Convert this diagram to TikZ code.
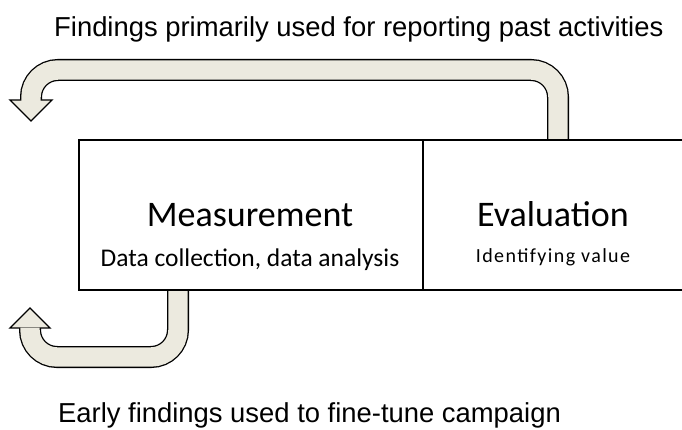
\documentclass[tikz,border=0pt]{standalone}
\usepackage{fontspec}
\setmainfont{Carlito}
\newfontfamily\arialfont{Liberation Sans}
\newfontfamily\spacedfont[LetterSpace=7]{Carlito}
\definecolor{bandfill}{HTML}{ECEADF}

\begin{document}
\begin{tikzpicture}[x=1pt,y=-1pt,
    box/.style={draw,line width=1.3pt,minimum height=150pt,inner sep=0pt},
    bandedge/.style={line width=22pt,rounded corners=27pt},
    bandbody/.style={line width=19.4pt,draw=bandfill,rounded corners=27pt},
    head/.style={draw,line width=1.3pt,fill=bandfill,line join=miter},
    caption/.style={inner sep=0pt,font=\arialfont\fontsize{27.4}{30}\selectfont}]
    \clip (0,0) rectangle (682,430);
    \coordinate (topstart) at (558,141);
    \coordinate (topend) at (31,101);
    \coordinate (botstart) at (178,289);
    \coordinate (botend) at (30,327);
    \draw[bandedge] (topstart) -- (558,70) -- (31,70) -- (topend);
    \draw[head] (10,100) -- (31,121) -- (52,100) -- cycle;
    \draw[bandbody] (topstart) -- (558,70) -- (31,70) -- (31,101.5);
    \draw[bandedge] (botstart) -- (178,357) -- (30,357) -- (botend);
    \draw[head] (10,328) -- (30,308) -- (50,328) -- cycle;
    \draw[bandbody] (botstart) -- (178,357) -- (30,357) -- (30,327.5);
    \node[box,minimum width=344pt] (meas) at (251,215) {};
    \node[box,minimum width=260pt] (eval) at (553,215) {};
    \node[anchor=base,font=\fontsize{36}{40}\selectfont] (meastitle) at (250,227) {Measurement};
    \node[anchor=base,font=\fontsize{25.5}{30}\selectfont] (meastext) at (250,266) {Data collection, data analysis};
    \node[anchor=base,font=\fontsize{36}{40}\selectfont] (evaltitle) at (553,227) {Evaluation};
    \node[anchor=base,font=\spacedfont\fontsize{20}{24}\selectfont] (evaltext) at (553,262) {Identifying value};
    \node[caption,anchor=base west] (toplabel) at (54,37) {Findings primarily used for reporting past activities};
    \node[caption,anchor=base west] (botlabel) at (58,422) {Early findings used to fine-tune campaign};
\end{tikzpicture}
\end{document}
